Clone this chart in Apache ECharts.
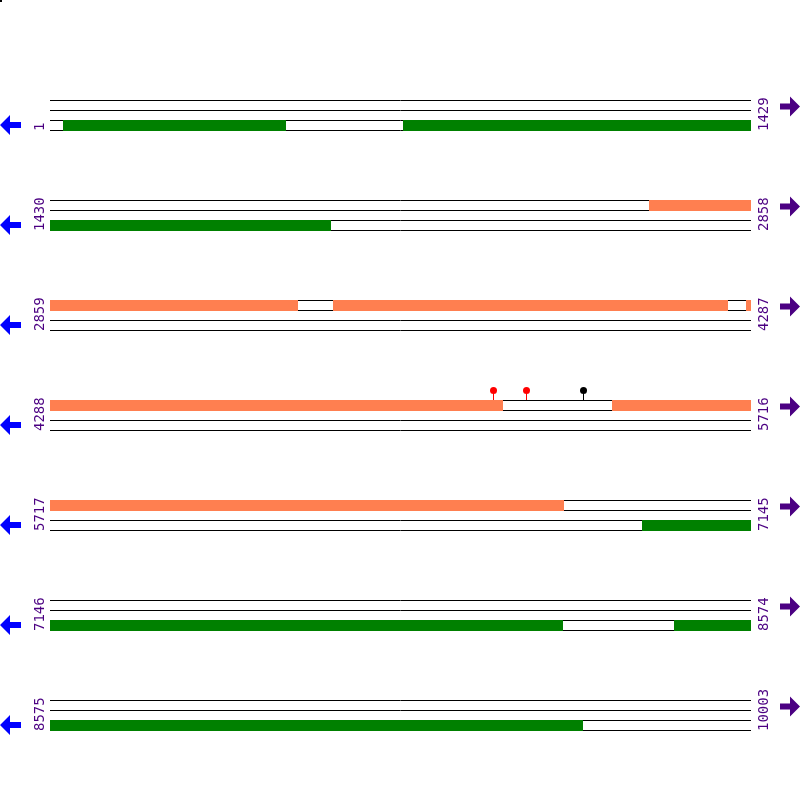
<!DOCTYPE html>
<html>
<head>
<meta charset="utf-8">
<script src="https://cdn.jsdelivr.net/npm/echarts@6/dist/echarts.min.js"></script>
<style>html,body{margin:0;padding:0;background:#fff}#c{width:800px;height:800px}</style>
</head>
<body>
<div id="c"></div>
<script>
// ---- data ----
const rowStarts = [1, 1430, 2859, 4288, 5717, 7146, 8575];
const rowEnds = [1429, 2858, 4287, 5716, 7145, 8574, 10003];
const rowLength = 1429;
// ORF segments (absolute positions), frame = track 1..3
const orfStart = [27, 721, 2651, 3436, 4277, 5434, 6924, 8418];
const orfEnd = [481, 2002, 3363, 4241, 5210, 6764, 8191, 9660];
const orfFrame = [3, 3, 1, 1, 1, 1, 3, 3];
// site markers
const sitePos = [5191, 5258, 5374];
const siteKind = ['cut', 'cut', 'other'];

// ---- styles ----
const frameColor = {1: '#FF7F50', 2: '#4682B4', 3: '#008000'};
const siteColor = {cut: '#FF0000', other: '#000000'};
const labelColor = '#4B0082';
const FONT = '14px "DejaVu Sans Mono"';

function rowOf(p) {
  for (let i = 0; i < rowStarts.length; i++) if (p >= rowStarts[i] && p <= rowEnds[i]) return i;
  return -1;
}

const chart = echarts.init(document.getElementById('c'), null, {renderer: 'canvas'});
const rowData = rowStarts.map((s, i) => [i, s, rowEnds[i]]);
const orfData = orfStart.map((s, i) => [s, orfEnd[i], orfFrame[i]]);
const siteData = sitePos.map((p, i) => [p, i]);

chart.setOption({
  animation: false,
  grid: {left: 50, top: 0, width: 701, height: 800},
  xAxis: {type: 'value', min: 0, max: rowLength, show: false},
  yAxis: {type: 'value', min: 0, max: 8, inverse: true, show: false},
  series: [
    { // backbone lines
      type: 'custom', data: rowData, z: 1,
      renderItem(params, api) {
        const i = api.value(0);
        const ch = [];
        for (let k = 0; k < 4; k++) {
          const a = api.coord([0, i + 1 + k * 0.1]);
          const b = api.coord([rowLength, i + 1 + k * 0.1]);
          const y = Math.round(a[1]) + 0.5;
          ch.push({type: 'line', shape: {x1: Math.round(a[0]), y1: y, x2: Math.round(b[0]), y2: y},
                   style: {stroke: '#000', lineWidth: 1}});
        }
        return {type: 'group', children: ch};
      }
    },
    { // ORFs
      type: 'custom', data: orfData, z: 2,
      renderItem(params, api) {
        const s0 = api.value(0), e0 = api.value(1), f = api.value(2);
        const ch = [];
        for (let i = 0; i < rowStarts.length; i++) {
          const s = Math.max(s0, rowStarts[i]), e = Math.min(e0, rowEnds[i]);
          if (s > e) continue;
          const a = api.coord([s - rowStarts[i], i + 1 + (f - 1) * 0.1]);
          const b = api.coord([e - rowStarts[i] + 1, i + 1 + (f - 1) * 0.1]);
          const x1 = Math.round(a[0]), x2 = Math.round(b[0]);
          ch.push({type: 'rect', shape: {x: x1, y: Math.round(a[1]), width: x2 - x1, height: 11},
                   style: {fill: frameColor[f]}});
        }
        return {type: 'group', children: ch};
      }
    },
    { // labels and arrows
      type: 'custom', data: rowData, z: 3,
      renderItem(params, api) {
        const i = api.value(0);
        const a = api.coord([0, i + 1]);
        const b = api.coord([rowLength, i + 1]);
        const x0 = Math.round(a[0]), x1 = Math.round(b[0]), top = Math.round(a[1]);
        const cl = top + 25, cr = top + 6.5;
        return {type: 'group', children: [
          {type: 'text', x: x0 - 9.5, y: top + 31, rotation: Math.PI / 2,
           style: {text: String(api.value(1)), font: FONT, fill: labelColor, align: 'left', verticalAlign: 'middle'}},
          {type: 'text', x: x1 + 13.5, y: top + 31, rotation: Math.PI / 2,
           style: {text: String(api.value(2)), font: FONT, fill: labelColor, align: 'left', verticalAlign: 'middle'}},
          {type: 'polygon', shape: {points: [[x0 - 50, cl], [x0 - 40, cl - 10], [x0 - 40, cl - 3], [x0 - 29, cl - 3],
            [x0 - 29, cl + 3], [x0 - 40, cl + 3], [x0 - 40, cl + 10]]}, style: {fill: '#0000FF'}},
          {type: 'polygon', shape: {points: [[x1 + 49, cr], [x1 + 39, cr - 10], [x1 + 39, cr - 3], [x1 + 29, cr - 3],
            [x1 + 29, cr + 3], [x1 + 39, cr + 3], [x1 + 39, cr + 10]]}, style: {fill: labelColor}}
        ]};
      }
    },
    { // site markers
      type: 'custom', data: siteData, z: 4,
      renderItem(params, api) {
        const p = api.value(0), k = siteKind[api.value(1)];
        const i = rowOf(p);
        const a = api.coord([p - rowStarts[i], i + 1]);
        const x = Math.round(a[0]) + 0.5, top = Math.round(a[1]);
        const c = siteColor[k];
        return {type: 'group', children: [
          {type: 'line', shape: {x1: x, y1: top - 8, x2: x, y2: top}, style: {stroke: c, lineWidth: 1}},
          {type: 'circle', shape: {cx: x, cy: top - 9.5, r: 3.5}, style: {fill: c}}
        ]};
      }
    }
  ],
  graphic: [{type: 'rect', shape: {x: 0, y: 0, width: 2, height: 2}, style: {fill: '#000'}}]
});
</script>
</body>
</html>
